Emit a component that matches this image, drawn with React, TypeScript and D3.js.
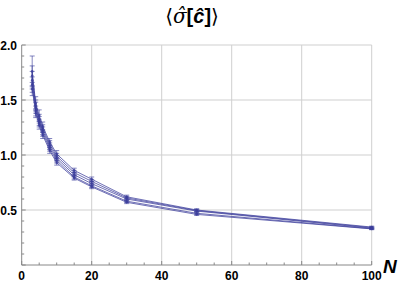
import React from "react";
import * as d3 from "d3";

const Ns = [3, 4, 5, 6, 8, 10, 15, 20, 30, 50, 100];
const series1 = [1.76, 1.47, 1.36, 1.26, 1.12, 1.01, 0.86, 0.78, 0.62, 0.5, 0.345];
const series2 = [1.72, 1.45, 1.33, 1.24, 1.1, 0.99, 0.84, 0.76, 0.61, 0.495, 0.34];
const series3 = [1.68, 1.43, 1.31, 1.22, 1.08, 0.97, 0.82, 0.74, 0.6, 0.49, 0.335];
const series4 = [1.64, 1.4, 1.29, 1.2, 1.06, 0.95, 0.8, 0.72, 0.58, 0.47, 0.33];
const series5 = [1.6, 1.38, 1.27, 1.18, 1.04, 0.93, 0.79, 0.71, 0.57, 0.46, 0.328];
const errors1 = [0.14, 0.06, 0.05, 0.04, 0.03, 0.03, 0.02, 0.02, 0.015, 0.012, 0.008];
const errors2 = [0.09, 0.05, 0.04, 0.035, 0.03, 0.025, 0.02, 0.018, 0.014, 0.01, 0.008];
const errors3 = [0.08, 0.05, 0.04, 0.035, 0.03, 0.025, 0.02, 0.018, 0.014, 0.01, 0.008];
const errors4 = [0.07, 0.045, 0.035, 0.03, 0.025, 0.022, 0.018, 0.016, 0.012, 0.01, 0.007];
const errors5 = [0.06, 0.04, 0.035, 0.03, 0.025, 0.022, 0.018, 0.016, 0.012, 0.01, 0.007];
const allSeries = [series1, series2, series3, series4, series5];
const allErrors = [errors1, errors2, errors3, errors4, errors5];
const xTicks = [0, 20, 40, 60, 80, 100];
const yTicks = [0.5, 1.0, 1.5, 2.0];

const W = 399;
const H = 284;
const color = "#3d3f9c";

export default function App() {
  const x = d3.scaleLinear().domain([0, 100]).range([21.7, 371.7]);
  const y = d3.scaleLinear().domain([0, 2]).range([265, 45]);
  const line = d3
    .line<number>()
    .x((_, i) => x(Ns[i]))
    .y((d) => y(d));
  const xMinor = d3.range(0, 101, 5);
  const yMinor = d3.range(0, 2.001, 0.1);
  const font = "'Liberation Sans', Arial, sans-serif";
  return (
    <svg
      width={W}
      height={H}
      style={{ position: "absolute", left: 0, top: 0 }}
    >
      <rect width={W} height={H} fill="white" />
      {/* grid */}
      {xTicks.slice(1).map((t) => (
        <line key={"gx" + t} x1={x(t)} x2={x(t)} y1={y(2)} y2={y(0)} stroke="#cfcfcf" strokeWidth={1} />
      ))}
      {yTicks.map((t) => (
        <line key={"gy" + t} x1={x(0)} x2={x(100)} y1={y(t)} y2={y(t)} stroke="#cfcfcf" strokeWidth={1} />
      ))}
      {/* axes */}
      <line x1={x(0)} x2={x(100)} y1={y(0)} y2={y(0)} stroke="#888" strokeWidth={1} />
      <line x1={x(0)} x2={x(0)} y1={y(0)} y2={y(2)} stroke="#888" strokeWidth={1} />
      {xMinor.map((t) => (
        <line
          key={"tx" + t}
          x1={x(t)}
          x2={x(t)}
          y1={y(0)}
          y2={y(0) - (t % 20 === 0 ? 4 : 2.5)}
          stroke="#888"
        />
      ))}
      {yMinor.map((t, i) => (
        <line
          key={"ty" + i}
          x1={x(0)}
          x2={x(0) + (i % 5 === 0 ? 4 : 2.5)}
          y1={y(t)}
          y2={y(t)}
          stroke="#888"
        />
      ))}
      {xTicks.map((t) => (
        <text
          key={"lx" + t}
          x={x(t)}
          y={280}
          textAnchor="middle"
          fontFamily={font}
          fontWeight="bold"
          fontSize={12}
        >
          {t}
        </text>
      ))}
      {yTicks.map((t) => (
        <text
          key={"ly" + t}
          x={17}
          y={y(t) + 4.5}
          textAnchor="end"
          fontFamily={font}
          fontWeight="bold"
          fontSize={12}
        >
          {t.toFixed(1)}
        </text>
      ))}
      {/* data */}
      {allSeries.map((s, k) => (
        <g key={"s" + k}>
          <path d={line(s) || ""} fill="none" stroke={color} strokeOpacity={0.75} strokeWidth={1} />
          {s.map((v, i) => {
            const e = allErrors[k][i];
            const cx = x(Ns[i]);
            return (
              <g key={i} stroke={color} strokeOpacity={0.7} strokeWidth={0.9}>
                <line x1={cx} x2={cx} y1={y(v - e)} y2={y(v + e)} />
                <line x1={cx - 2.5} x2={cx + 2.5} y1={y(v - e)} y2={y(v - e)} />
                <line x1={cx - 2.5} x2={cx + 2.5} y1={y(v + e)} y2={y(v + e)} />
                <circle cx={cx} cy={y(v)} r={1.3} fill={color} stroke="none" fillOpacity={0.8} />
              </g>
            );
          })}
        </g>
      ))}
      {/* axis label */}
      <text
        x={383}
        y={273}
        fontFamily={font}
        fontWeight="bold"
        fontStyle="italic"
        fontSize={19}
      >
        N
      </text>
      {/* title */}
      <text x={192} y={23} textAnchor="middle" fontSize={20}>
        <tspan fontFamily="'DejaVu Serif', serif">⟨</tspan>
        <tspan fontFamily="'DejaVu Serif', serif" fontStyle="italic">{"σ\u0302"}</tspan>
        <tspan fontFamily={font} fontWeight="bold">[</tspan>
        <tspan fontFamily={font} fontWeight="bold" fontStyle="italic">{"\u0109"}</tspan>
        <tspan fontFamily={font} fontWeight="bold">]</tspan>
        <tspan fontFamily="'DejaVu Serif', serif">⟩</tspan>
      </text>
    </svg>
  );
}
